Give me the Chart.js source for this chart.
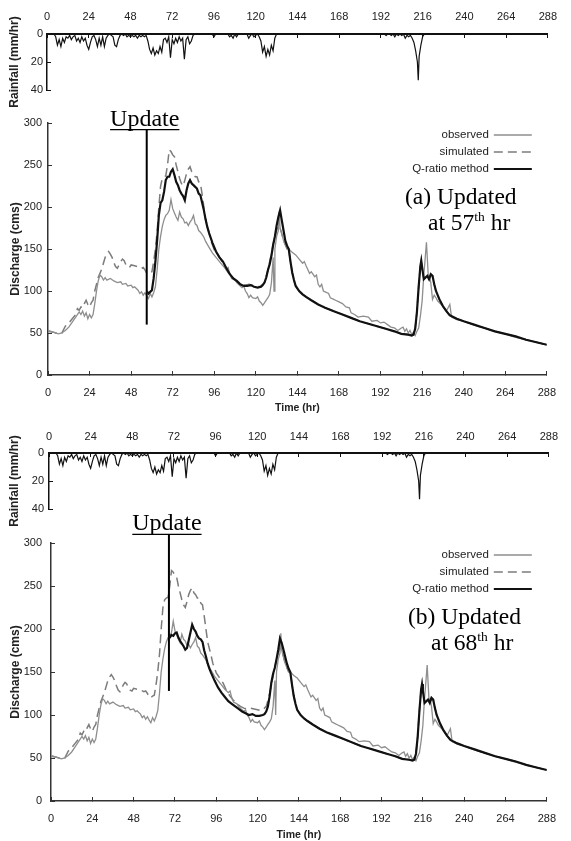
<!DOCTYPE html>
<html>
<head>
<meta charset="utf-8">
<script src="https://cdn.jsdelivr.net/npm/chart.js@4.4.1/dist/chart.umd.min.js"></script>
<style>
  html, body { margin: 0; padding: 0; background: #fff; overflow: hidden; }
  body { width: 571px; height: 841px; position: relative; }
  canvas { position: absolute; left: 0; }
</style>
</head>
<body>
<canvas id="rainA" width="571" height="115" style="top:0px"></canvas>
<canvas id="flowA" width="571" height="318" style="top:100px"></canvas>
<canvas id="rainB" width="571" height="118" style="top:415px"></canvas>
<canvas id="flowB" width="571" height="345" style="top:500px"></canvas>
<script>
// rainfall (mm/hr)
const rainHr = [0,4,5,6,7,8,9,10,11,12,13,14,15,16,17,18,19,20,21,22,23,24,25,26,27,28,29,30,
  31,32,33,34,35,36,37,38,39,40,41,42,43,44,45,46,47,48,49,50,51,52,53,54,55,56,57,58,59,60,
  61,62,63,64,65,66,67,68,69,70,71,72,73,74,75,76,77,78,79,80,81,82,83,84,85,95,96,97,104,105,
  106,107,108,109,110,115,116,117,118,119,120,121,122,123,124,125,126,127,128,129,130,131,132,
  194,195,196,197,198,199,200,201,202,203,204,205,206,207,208,209,210,211,212,213,213.5,214,215,216,217,288]
const rainMm = [0,0,2,8,4,9,3,6,2,3,1,4,2,1,5,3,6,2,5,3,8,11,6,2,1,4,9,3,
  8,2,9,3,1,0,1,2,8,9,4,1,0,1,0,2,1,2,1,2,1,3,1,2,1,2,1,5,11,14,
  10,15,12,14,9,13,4,3,6,2,17,4,7,3,6,2,5,3,18,4,2,7,5,1,0,0,2,0,0,2,
  1,3,0,2,0,0,3,1,0,2,1,0,2,5,13,9,16,11,15,8,12,3,0,
  0,1,0,0,1,0,2,0,1,0,1,0,3,1,2,1,3,6,12,20,33,16,8,2,0,0]

// observed discharge (cms)
const obsHr = [0,3,6,8,10,12,14,16,18,19,
  20,21,22,23,24,25,26,27,28,29,
  30,31,32,33,34,36,38,40,42,43,
  45,46,48,49,50,52,53,54,55,56,
  57,58,59,60,61,62,63,64,65,66,
  67,68,69,70,71,72,73,74,75,76,
  77,78,79,80,81,82,83,84,85,86,
  87,88,89,90,91,93,95,97,99,101,
  103,104,105,106,108,109,110,112,113,114,
  115,116,117,118,120,121,122,123,124,125,
  126,127,128,129,130,130.5,131,132,133,133.5,
  134,135,136,137,138,139,141,143,145,147,
  148,149,151,152,154,155,156,157,158,159,
  160,162,163,165,166,168,170,172,174,175,
  177,179,182,185,187,190,192,194,196,198,
  200,202,204,205,206,207,208,209,210,211,
  212,213,214,215,216,217,217.5,218.5,219.5,220.5,
  221,222,223,224,225,226,227,228,229,230,
  231,232,233,236,240,244,248,252,256,260,
  264,268,272,276,280,284,288]
const obsQ = [53,51,49,50,53,57,63,69,75,72,
  76,70,74,67,72,68,72,85,100,112,
  119,117,113,116,113,115,112,110,111,108,
  109,106,107,104,105,101,97,99,95,98,
  94,91,97,93,98,105,125,150,165,177,
  185,190,192,196,209,198,193,188,184,194,
  188,186,181,182,178,182,185,190,180,178,
  172,170,167,164,159,152,145,140,135,130,
  126,128,120,115,113,110,108,104,106,100,
  97,92,95,92,91,93,88,86,83,86,
  89,92,96,110,140,100,150,165,172,195,
  175,168,160,155,152,150,146,143,138,133,
  135,130,121,123,117,119,108,105,108,100,
  99,97,92,90,89,87,85,81,80,74,
  72,69,70,69,64,65,62,63,60,57,
  56,53,56,57,52,55,50,53,48,51,
  47,52,56,70,88,120,132,158,120,115,
  110,90,95,92,88,86,84,82,79,76,
  80,84,69,66,64,61,58,56,53,51,
  49,46,44,42,40,38,36]

// simulated discharge up to 138 hr
const simHr = [0,3,6,8,10,12,14,16,17,18,
  19,20,21,22,23,24,25,26,27,28,
  29,30,31,32,33,34,35,36,37,38,
  39,40,41,42,43,44,45,46,47,48,
  50,52,54,55,56,57,58,59,60,61,
  62,63,64,65,66,67,68,69,70,71,
  72,73,74,75,76,77,78,79,80,81,
  82,83,84,85,86,87,88,89,90,91,
  92,93,94,96,98,100,102,104,106,108,
  110,112,114,116,118,120,122,124,125,126,
  127,128,129,130,131,132,133,134,135,136,
  137,138]
const simQ = [52,51,49,50,58,62,67,72,79,77,
  81,80,85,89,84,81,86,89,100,108,
  116,121,126,133,140,144,147,144,140,134,
  129,127,131,135,138,136,131,129,128,131,
  130,129,127,128,125,121,120,122,123,135,
  150,170,200,225,234,236,237,250,268,266,
  262,260,250,242,234,228,225,232,240,245,
  248,242,240,236,236,230,228,215,200,185,
  177,169,160,149,143,137,128,122,117,113,
  110,108,107,108,107,106,105,108,110,117,
  125,135,145,155,165,172,178,175,168,160,
  155,150]

// recession shared by simulated and both Q-ratio runs after 138 hr
const tailHr = [139,140,141,142,143,145,147,149,152,156,
  160,165,170,175,180,185,190,195,200,204,
  208,210,211,212,213,214,215,215.5,216,217,
  218,219,220,221,222,223,224,226,228,230,
  232,236,240,246,252,258,264,270,276,282,288]
const tailQ = [150,135,122,113,106,100,96,93,89,84,
  80,76,72,68,64,61,58,55,52,49,
  48,47,48,55,75,105,130,136,128,114,
  116,118,114,120,118,108,100,90,82,76,
  71,67,64,60,56,52,49,46,42,39,36]

// Q-ratio method, updated at 57 hr
const qaHr = [57,58,59,60,61,62,63,64,65,66,
  67,68,69,70,71,72,73,74,75,76,
  77,78,79,80,81,82,83,84,85,86,
  87,88,89,90,91,92,93,95,97,99,
  101,103,105,107,109,111,113,115,117,119,
  121,123,124,125,126,127,128,129,130,131,
  132,133,134,135,136,137,138]
const qaQ = [100,97,99,101,115,135,160,190,205,208,
  218,232,236,236,242,245,238,230,226,220,
  216,213,208,220,228,232,228,226,224,222,
  216,214,205,196,185,176,169,157,147,140,
  135,127,120,115,112,108,106,106,107,105,
  104,105,107,110,116,125,132,142,155,165,
  178,188,196,184,172,160,154]

// Q-ratio method, updated at 68 hr
const qbHr = [68.5,69,70,71,72,73,74,75,76,77,
  78,79,80,81,82,83,84,85,86,87,
  88,89,90,91,92,93,95,97,99,101,
  103,105,107,109,111,113,115,117,119,121,
  123,124,125,126,127,128,129,130,131,132,
  133,134,135,136,137,138]
const qbQ = [189,190,193,192,195,196,190,186,183,180,
  176,178,187,196,205,200,197,192,189,188,
  185,175,168,160,154,149,140,132,126,121,
  116,113,110,107,104,102,100,101,99,99,
  100,101,104,110,122,138,148,155,165,176,
  189,184,176,168,160,154]

// update marker: hour, bottom and top of the vertical line (cms)
const updateHours = [57, 68.5]
const updateLow = [60, 128]
const updateHigh = [292, 310]

const legendNames = ['observed', 'simulated', 'Q-ratio method']
const captions = ['(a) Updated', '(b) Updated']
const captionHours = ['57', '68']

Chart.defaults.font.family = '"Liberation Sans", Arial, sans-serif'
Chart.defaults.color = '#222'

function pts(xs, ys) {
  return xs.map((x, i) => ({x: x, y: ys[i]}))
}

const notes = {
  id: 'notes',
  afterDatasetsDraw(chart, args, o) {
    const ctx = chart.ctx
    const a = chart.chartArea
    const sx = chart.scales.x, sy = chart.scales.y
    ctx.save()
    // legend, top right corner of the plot
    ctx.font = '11.5px "Liberation Sans", Arial, sans-serif'
    ctx.textAlign = 'right'
    ctx.textBaseline = 'middle'
    legendNames.forEach((name, i) => {
      const ds = chart.data.datasets.find(d => d.label === name)
      const ly = a.top + 12 + i * 17
      const lx = a.right - 15
      ctx.fillStyle = '#222'
      ctx.fillText(name, lx - 43, ly)
      ctx.strokeStyle = ds.borderColor
      ctx.lineWidth = ds.borderWidth
      ctx.setLineDash(ds.borderDash || [])
      ctx.beginPath()
      ctx.moveTo(lx - 38, ly)
      ctx.lineTo(lx, ly)
      ctx.stroke()
    })
    ctx.setLineDash([])

    // "Update" label over the marker line
    const ux = sx.getPixelForValue(o.hour) - 2
    const uy = sy.getPixelForValue(o.top)
    ctx.font = '24px "Liberation Serif", "Times New Roman", serif'
    ctx.textAlign = 'center'
    ctx.textBaseline = 'alphabetic'
    ctx.fillStyle = '#000'
    ctx.fillText('Update', ux, uy - 4)
    const w = ctx.measureText('Update').width
    ctx.strokeStyle = '#000'
    ctx.lineWidth = 1.3
    ctx.beginPath()
    ctx.moveTo(ux - w / 2, uy)
    ctx.lineTo(ux + w / 2, uy)
    ctx.stroke()

    // panel caption
    const serif = '"Liberation Serif", "Times New Roman", serif'
    ctx.textAlign = 'left'
    ctx.font = '23.5px ' + serif
    const cx = a.left + 357, cy = a.top + 81
    ctx.fillText(o.caption, cx, cy)
    let tx = cx + 23
    const t1 = 'at ' + o.hourText
    ctx.fillText(t1, tx, cy + 26)
    tx += ctx.measureText(t1).width
    ctx.font = '13.5px ' + serif
    ctx.fillText('th', tx, cy + 17)
    tx += ctx.measureText('th').width
    ctx.font = '23.5px ' + serif
    ctx.fillText(' hr', tx, cy + 26)
    ctx.restore()
  }
}

function rainChart(id, box) {
  return new Chart(document.getElementById(id), {
    type: 'line',
    data: {
      datasets: [{
        data: pts(rainHr, rainMm),
        borderColor: '#111',
        borderWidth: 1.2,
        pointRadius: 0,
        tension: 0
      }]
    },
    options: {
      responsive: false,
      animation: false,
      events: [],
      layout: { padding: { left: 0, top: 0, right: 571 - box.right, bottom: box.canvasTop + box.canvasH - box.bottom } },
      plugins: { legend: { display: false }, tooltip: { enabled: false } },
      scales: {
        x: {
          type: 'linear', position: 'top', min: 0, max: 288,
          ticks: { stepSize: 24, autoSkip: false, maxRotation: 0, padding: box.xPad, font: { size: 11 } },
          grid: { drawOnChartArea: false, tickLength: -4, color: '#111', lineWidth: 1 },
          border: { color: '#111', width: 2 },
          afterFit: s => { s.height = box.top - box.canvasTop }
        },
        y: {
          min: 0, max: 40, reverse: true,
          ticks: { stepSize: 20, padding: box.yPad, font: { size: 11 } },
          grid: { drawOnChartArea: false, tickLength: -4, color: '#111', lineWidth: 1 },
          border: { color: '#111', width: 1.5 },
          title: { display: true, text: 'Rainfall (mm/hr)', font: { size: 12, weight: 'bold' }, padding: { top: 7, bottom: 0 } },
          afterFit: s => { s.width = box.left }
        }
      }
    }
  })
}

function flowChart(id, box, k, qHr, qQ) {
  const upd = pts([updateHours[k], updateHours[k]], [updateLow[k], updateHigh[k]])
  return new Chart(document.getElementById(id), {
    type: 'line',
    data: {
      datasets: [
        { label: 'Q-ratio method', data: pts(qHr.concat(tailHr), qQ.concat(tailQ)), borderColor: '#111', borderWidth: 2.2 },
        { label: 'update', data: upd, borderColor: '#000', borderWidth: 2, clip: false },
        { label: 'observed', data: pts(obsHr, obsQ), borderColor: '#8e8e8e', borderWidth: 1.3 },
        { label: 'simulated', data: pts(simHr.concat(tailHr), simQ.concat(tailQ)), borderColor: '#7c7c7c', borderWidth: 1.5, borderDash: [9, 5] }
      ]
    },
    options: {
      responsive: false,
      animation: false,
      events: [],
      elements: { point: { radius: 0 }, line: { tension: 0 } },
      layout: { padding: { left: 0, top: box.top - box.canvasTop, right: 571 - box.right, bottom: 0 } },
      plugins: {
        legend: { display: false },
        tooltip: { enabled: false },
        notes: { hour: updateHours[k], top: updateHigh[k], caption: captions[k], hourText: captionHours[k] }
      },
      scales: {
        x: {
          type: 'linear', min: 0, max: 288,
          ticks: { stepSize: 24, autoSkip: false, maxRotation: 0, padding: 15, font: { size: 11 } },
          grid: { drawOnChartArea: false, tickLength: -4, color: '#333', lineWidth: 1 },
          border: { color: '#333', width: 1.5 },
          title: { display: true, text: 'Time (hr)', font: { size: 10.5, weight: 'bold' }, padding: { top: 0, bottom: 4 } },
          afterFit: s => { s.height = box.canvasTop + box.canvasH - box.bottom }
        },
        y: {
          min: 0, max: 300,
          ticks: { stepSize: 50, padding: box.yPad, font: { size: 11 } },
          grid: { drawOnChartArea: false, tickLength: -4, color: '#333', lineWidth: 1 },
          border: { color: '#333', width: 1.5 },
          title: { display: true, text: 'Discharge (cms)', font: { size: 12, weight: 'bold' }, padding: { top: 8, bottom: 0 } },
          afterFit: s => { s.width = box.left }
        }
      }
    },
    plugins: [notes]
  })
}

rainChart('rainA', { canvasTop: 0, canvasH: 115, left: 47, right: 558, top: 34, bottom: 90, xPad: 14, yPad: 8 })
flowChart('flowA', { canvasTop: 100, canvasH: 318, left: 48, right: 558, top: 123, bottom: 375, yPad: 10 }, 0, qaHr, qaQ)
rainChart('rainB', { canvasTop: 415, canvasH: 118, left: 49, right: 560, top: 453, bottom: 509, xPad: 13, yPad: 9 })
flowChart('flowB', { canvasTop: 500, canvasH: 345, left: 51, right: 561, top: 543, bottom: 801, yPad: 13 }, 1, qbHr, qbQ)
</script>
</body>
</html>
